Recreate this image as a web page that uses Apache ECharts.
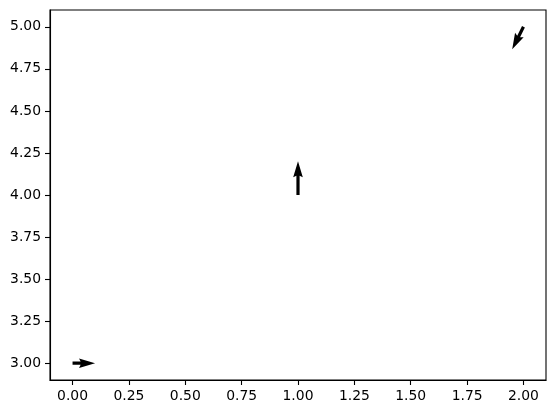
<!DOCTYPE html>
<html>
<head>
<meta charset="utf-8">
<script src="https://cdn.jsdelivr.net/npm/echarts@6/dist/echarts.min.js"></script>
<style>html,body{margin:0;padding:0;background:#fff}#c{width:556px;height:413px}</style>
</head>
<body>
<div id="c"></div>
<script>
// Quiver data
var X = [0, 1, 2];
var Y = [3, 4, 5];
var U = [1, 0, -0.5];
var V = [0, 1.5, -1.0];
var xTicks = [0, 0.25, 0.5, 0.75, 1, 1.25, 1.5, 1.75, 2];
var yTicks = [3, 3.25, 3.5, 3.75, 4, 4.25, 4.5, 4.75, 5];

var data = X.map(function (x, i) { return [x, Y[i], U[i], V[i]]; });

var PX_PER_UNIT = 22.5; // quiver scale (screen px per vector unit)
var W = 3.2;            // shaft width in px

var chart = echarts.init(document.getElementById('c'), null, {renderer: 'canvas'});
var font = 'DejaVu Sans';
chart.setOption({
  animation: false,
  grid: {left: 50, top: 10, width: 496, height: 370, show: true, borderColor: '#000', borderWidth: 1.1, backgroundColor: '#fff'},
  xAxis: {
    type: 'value', min: -0.1, max: 2.1,
    axisLine: {show: true, onZero: false, lineStyle: {color: '#000', width: 1.1}},
    axisTick: {show: true, length: 5, lineStyle: {color: '#000', width: 1.1}, customValues: xTicks},
    axisLabel: {color: '#000', fontFamily: font, fontSize: 13.9, margin: 9, customValues: xTicks,
      formatter: function (v) { return v.toFixed(2); }},
    splitLine: {show: false}
  },
  yAxis: {
    type: 'value', min: 2.9, max: 5.1,
    axisLine: {show: true, onZero: false, lineStyle: {color: '#000', width: 1.1}},
    axisTick: {show: true, length: 5, lineStyle: {color: '#000', width: 1.1}, customValues: yTicks},
    axisLabel: {color: '#000', fontFamily: font, fontSize: 13.9, margin: 9, customValues: yTicks,
      formatter: function (v) { return v.toFixed(2); }},
    splitLine: {show: false}
  },
  series: [{
    type: 'custom',
    clip: false,
    data: data,
    renderItem: function (params, api) {
      var p = api.coord([api.value(0), api.value(1)]);
      var u = api.value(2), v = api.value(3);
      var mag = Math.sqrt(u * u + v * v);
      var L = mag * PX_PER_UNIT;
      var dx = u / mag, dy = -v / mag; // screen direction
      var nx = -dy, ny = dx;
      var shape = [
        [0, -W / 2], [L - 4.5 * W, -W / 2], [L - 5 * W, -1.5 * W], [L, 0],
        [L - 5 * W, 1.5 * W], [L - 4.5 * W, W / 2], [0, W / 2]
      ];
      var pts = shape.map(function (q) {
        return [p[0] + q[0] * dx + q[1] * nx, p[1] + q[0] * dy + q[1] * ny];
      });
      return {type: 'polygon', shape: {points: pts}, style: {fill: '#000', stroke: null}};
    }
  }]
});
</script>
</body>
</html>
